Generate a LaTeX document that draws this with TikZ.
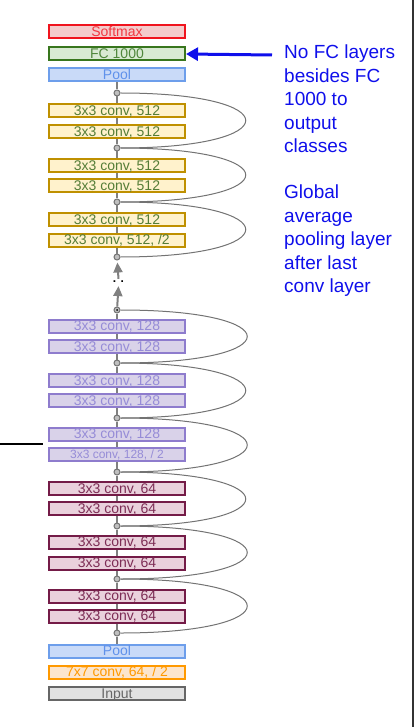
\documentclass[tikz,border=0pt]{standalone}
\usepackage{fontspec}
\setmainfont{Liberation Sans}
\usepackage{tikz}
\usetikzlibrary{calc,positioning,arrows,arrows.meta,shapes}

\definecolor{softmaxdraw}{RGB}{240,20,30}
\definecolor{softmaxfill}{RGB}{244,204,204}
\definecolor{fcdraw}{RGB}{56,118,29}
\definecolor{fcfill}{RGB}{217,234,211}
\definecolor{fctext}{RGB}{80,135,60}
\definecolor{pooldraw}{RGB}{109,158,235}
\definecolor{poolfill}{RGB}{201,218,248}
\definecolor{pooltext}{RGB}{95,145,235}
\definecolor{goldraw}{RGB}{191,144,0}
\definecolor{goldfill}{RGB}{255,242,204}
\definecolor{goldtext}{RGB}{85,125,55}
\definecolor{purpdraw}{RGB}{142,124,205}
\definecolor{purpfill}{RGB}{217,210,233}
\definecolor{purptext}{RGB}{150,140,215}
\definecolor{marodraw}{RGB}{116,27,71}
\definecolor{marofill}{RGB}{234,209,220}
\definecolor{marotext}{RGB}{125,45,85}
\definecolor{orandraw}{RGB}{255,153,0}
\definecolor{oranfill}{RGB}{252,229,205}
\definecolor{inpdraw}{RGB}{102,102,102}
\definecolor{inpfill}{RGB}{225,225,225}
\definecolor{notes}{RGB}{15,15,235}

\begin{document}
\begin{tikzpicture}[x=1pt,y=-1pt]

	\tikzstyle{block} = [rectangle, draw, line width=2pt, inner sep=0pt,
    		minimum width=136pt, minimum height=13pt, text centered,
    		text height=9.8pt, text depth=0pt,
    		font=\fontsize{14}{14}\selectfont]
	\tikzstyle{block_softmax} = [block, draw=softmaxdraw, fill=softmaxfill, text=softmaxdraw!85]
	\tikzstyle{block_fc} = [block, draw=fcdraw, fill=fcfill, text=fctext]
	\tikzstyle{block_pool} = [block, draw=pooldraw, fill=poolfill, text=pooltext]
	\tikzstyle{block_c512} = [block, draw=goldraw, fill=goldfill, text=goldtext]
	\tikzstyle{block_c128} = [block, draw=purpdraw, fill=purpfill, text=purptext]
	\tikzstyle{block_c64} = [block, draw=marodraw, fill=marofill, text=marotext]
	\tikzstyle{block_c7} = [block, draw=orandraw, fill=oranfill, text=orandraw]
	\tikzstyle{block_input} = [block, draw=inpdraw, fill=inpfill, text=inpdraw]
	\tikzstyle{sum} = [circle, draw=black!55, fill=black!25, line width=1pt,
    		inner sep=0pt, minimum size=6pt]
	\tikzstyle{plaintext} = [draw=none, fill=none, inner sep=0pt, align=left, text=notes,
    		font=\fontsize{19}{23.4}\selectfont]
	\tikzstyle{line} = [draw, black!50, line width=1.5pt]
	\tikzstyle{skip} = [draw, black!55, line width=1pt]
	\tikzstyle{arrow_up} = [draw, black!50, line width=2pt, -{Triangle[width=9pt,length=10pt]}]

    \useasboundingbox (0,0) rectangle (414,727);

    % Place nodes
    \node [block_softmax] at (117, 31.5) (softmax) {Softmax};
    \node [block_fc] at (117, 54) (fc) {FC 1000};
    \node [block_pool] at (117, 75) (pool_top) {Pool};

    \node [sum] at (117, 93) (sum_1) {};
    \node [block_c512] at (117, 111) (c512_1) {3x3 conv, 512};
    \node [block_c512] at (117, 131.5) (c512_2) {3x3 conv, 512};
    \node [sum] at (117, 148) (sum_2) {};
    \node [block_c512] at (117, 165.5) (c512_3) {3x3 conv, 512};
    \node [block_c512] at (117, 186) (c512_4) {3x3 conv, 512};
    \node [sum] at (117, 202) (sum_3) {};
    \node [block_c512] at (117, 219.5) (c512_5) {3x3 conv, 512};
    \node [block_c512] at (117, 240) (c512_6) {3x3 conv, 512, /2};
    \node [sum] at (117, 257) (sum_4) {};

    \node [font=\bfseries\fontsize{12}{12}\selectfont, inner sep=0pt] at (118.5, 282) (gap) {. .};

    \node [sum] at (117, 310) (sum_5) {};
    \fill (sum_5) circle (1pt);
    \node [block_c128] at (117, 326) (c128_1) {3x3 conv, 128};
    \node [block_c128] at (117, 346.5) (c128_2) {3x3 conv, 128};
    \node [sum] at (117, 363) (sum_6) {};
    \node [block_c128] at (117, 380.5) (c128_3) {3x3 conv, 128};
    \node [block_c128] at (117, 400.5) (c128_4) {3x3 conv, 128};
    \node [sum] at (117, 418) (sum_7) {};
    \node [block_c128] at (117, 434) (c128_5) {3x3 conv, 128};
    \node [block_c128, font=\fontsize{12}{13}\selectfont, text height=8.6pt] at (117, 454.5) (c128_6) {3x3 conv, 128, / 2};
    \node [sum] at (117, 472) (sum_8) {};

    \node [block_c64] at (117, 488.5) (c64_1) {3x3 conv, 64};
    \node [block_c64] at (117, 508.5) (c64_2) {3x3 conv, 64};
    \node [sum] at (117, 526) (sum_9) {};
    \node [block_c64] at (117, 542) (c64_3) {3x3 conv, 64};
    \node [block_c64] at (117, 563) (c64_4) {3x3 conv, 64};
    \node [sum] at (117, 579) (sum_10) {};
    \node [block_c64] at (117, 596) (c64_5) {3x3 conv, 64};
    \node [block_c64] at (117, 616) (c64_6) {3x3 conv, 64};
    \node [sum] at (117, 633) (sum_11) {};

    \node [block_pool] at (117, 651) (pool_low) {Pool};
    \node [block_c7] at (117, 672) (conv_7) {7x7 conv, 64, / 2};
    \node [block_input] at (117, 693.5) (input) {Input};

    \node [plaintext, anchor=north west] at (284, 45) (note_fc) {No FC layers\\besides FC\\1000 to\\output\\classes};
    \node [plaintext, anchor=north west] at (284, 185) (note_pool) {Global\\average\\pooling layer\\after last\\conv layer};

    \coordinate (cut_l) at (0, 444);
    \coordinate (cut_r) at (43, 444);
    \coordinate (edge_t) at (413, 0);
    \coordinate (edge_b) at (413, 727);
    \coordinate (note_tail) at (272, 55);

    % Draw edges
    \path [line] (pool_top) -- (sum_1) -- (c512_1) -- (c512_2) -- (sum_2) -- (c512_3) -- (c512_4)
        -- (sum_3) -- (c512_5) -- (c512_6) -- (sum_4);
    \path [line] (sum_5) -- (c128_1) -- (c128_2) -- (sum_6) -- (c128_3) -- (c128_4)
        -- (sum_7) -- (c128_5) -- (c128_6) -- (sum_8);
    \path [line] (sum_8) -- (c64_1) -- (c64_2) -- (sum_9) -- (c64_3) -- (c64_4)
        -- (sum_10) -- (c64_5) -- (c64_6) -- (sum_11) -- (pool_low);

    \path [arrow_up] (sum_5) -- ([yshift=-3pt]gap.south);
    \path [arrow_up, shorten >=2pt] ([yshift=2pt]gap.north) -- (sum_4);

    \path [skip] (sum_1.east) .. controls +(167,0) and +(167,0) .. (sum_2.east);
    \path [skip] (sum_2.east) .. controls +(167,0) and +(167,0) .. (sum_3.east);
    \path [skip] (sum_3.east) .. controls +(167,0) and +(167,0) .. (sum_4.east);
    \path [skip] (sum_5.east) .. controls +(169,0) and +(169,0) .. (sum_6.east);
    \path [skip] (sum_6.east) .. controls +(167,0) and +(167,0) .. (sum_7.east);
    \path [skip] (sum_7.east) .. controls +(169,0) and +(169,0) .. (sum_8.east);
    \path [skip] (sum_8.east) .. controls +(167,0) and +(167,0) .. (sum_9.east);
    \path [skip] (sum_9.east) .. controls +(169,0) and +(169,0) .. (sum_10.east);
    \path [skip] (sum_10.east) .. controls +(169,0) and +(169,0) .. (sum_11.east);

    \draw [notes, line width=3pt, -{Triangle[width=13pt,length=12pt]}] (note_tail) -- (fc.east);

    \draw [black, line width=2pt] (cut_l) -- (cut_r);
    \draw [black!80, line width=1.5pt] (edge_t) -- (edge_b);
\end{tikzpicture}
\end{document}
